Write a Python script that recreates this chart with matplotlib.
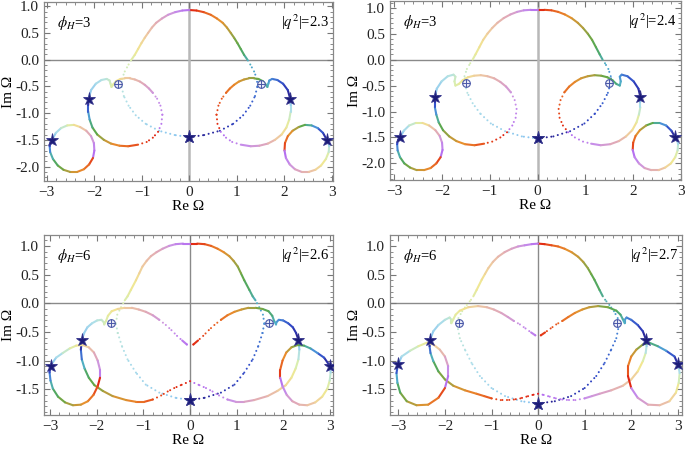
import matplotlib
matplotlib.use("Agg")
import matplotlib.pyplot as plt
import numpy as np
from matplotlib.collections import LineCollection
from matplotlib.colors import LinearSegmentedColormap
from matplotlib.ticker import MultipleLocator, FormatStrFormatter

plt.rcParams["font.family"] = ["Liberation Serif", "DejaVu Serif"]
plt.rcParams["mathtext.fontset"] = "stix"

# colour of the phase parameter t along each trajectory (0 -> 1)
phase_t = [0.0, 0.05, 0.10, 0.13, 0.18, 0.23, 0.29, 0.37, 0.44, 0.4999,
           0.5001, 0.56, 0.63, 0.72, 0.80, 0.87, 0.93, 1.0]
phase_hex = ["#2a2090", "#3048c8", "#4a8fd8", "#50b0c8", "#4ea86a", "#62a846",
             "#a8a040", "#e8902e", "#e85a20", "#e02010",
             "#b46ef0", "#c890e8", "#e0a8b8", "#eec8a0", "#f2e690", "#d8eeb0",
             "#b0e0e8", "#88c4f0"]

# ---- panel 1: phi_H = 3, |q^2| = 2.3  (Re > 0 half, mirrored for Re < 0)
p1_arch_x = [0.00, 0.31, 0.64, 0.92, 1.13, 1.28, 1.38, 1.43, 1.42, 1.36, 1.28, 1.22,
             1.15, 1.08, 1.01, 0.94, 0.87, 0.79, 0.70, 0.58, 0.45, 0.30, 0.15, 0.00]
p1_arch_y = [-1.45, -1.41, -1.33, -1.20, -1.04, -0.86, -0.68, -0.50, -0.36, -0.22, -0.09, 0.00,
             0.09, 0.20, 0.31, 0.41, 0.50, 0.60, 0.69, 0.77, 0.84, 0.89, 0.92, 0.93]
p1_arch_t = [0.000, 0.012, 0.025, 0.038, 0.050, 0.062, 0.075, 0.087, 0.100, 0.115, 0.130, 0.140,
             0.165, 0.20, 0.23, 0.26, 0.29, 0.32, 0.35, 0.38, 0.41, 0.44, 0.47, 0.50]
p1_loop_x = [2.12, 2.07, 1.97, 1.85, 1.74, 1.68, 1.66, 1.64, 1.60, 1.54, 1.45, 1.36, 1.25,
             1.15, 1.04, 0.94, 0.85, 0.77, 0.68, 0.61, 0.57, 0.59, 0.66, 0.77, 0.90, 1.08,
             1.29, 1.47, 1.65, 1.80, 1.94, 2.04, 2.10, 2.13, 2.13, 2.12]
p1_loop_y = [-0.73, -0.57, -0.45, -0.38, -0.36, -0.39, -0.45, -0.51, -0.46, -0.40, -0.36, -0.35,
             -0.35, -0.37, -0.41, -0.47, -0.54, -0.62, -0.73, -0.86, -1.03, -1.20, -1.35, -1.46,
             -1.54, -1.59, -1.62, -1.61, -1.57, -1.50, -1.40, -1.27, -1.12, -0.97, -0.85, -0.73]
p1_loop_t = [0.000, 0.025, 0.050, 0.070, 0.090, 0.105, 0.120, 0.140, 0.160, 0.190, 0.230, 0.260,
             0.290, 0.320, 0.350, 0.380, 0.400, 0.420, 0.435, 0.450, 0.465, 0.480, 0.495, 0.510,
             0.520, 0.535, 0.570, 0.600, 0.640, 0.690, 0.750, 0.800, 0.860, 0.910, 0.950, 1.000]
p1_small_x = [2.89, 2.81, 2.70, 2.57, 2.43, 2.30, 2.17, 2.07, 2.01, 2.00, 2.03, 2.11, 2.22,
              2.36, 2.51, 2.65, 2.77, 2.87, 2.93, 2.94, 2.92, 2.89]
p1_small_y = [-1.50, -1.37, -1.28, -1.23, -1.22, -1.26, -1.33, -1.43, -1.56, -1.70, -1.84, -1.96,
              -2.05, -2.10, -2.10, -2.06, -1.98, -1.86, -1.73, -1.62, -1.55, -1.50]
p1_small_t = [0.00, 0.04, 0.08, 0.13, 0.19, 0.26, 0.33, 0.39, 0.44, 0.48, 0.52, 0.56, 0.60,
              0.64, 0.68, 0.73, 0.78, 0.83, 0.88, 0.93, 0.97, 1.00]
p1_star_x = [0.00, 2.12, 2.89]
p1_star_y = [-1.45, -0.73, -1.50]
p1_oplus = (1.50, -0.46)

# ---- panel 2: phi_H = 3, |q^2| = 2.4
p2_arch_x = [0.00, 0.33, 0.68, 0.98, 1.20, 1.36, 1.47, 1.53, 1.53, 1.48, 1.41, 1.36,
             1.30, 1.22, 1.14, 1.05, 0.95, 0.84, 0.71, 0.57, 0.43, 0.29, 0.14, 0.00]
p2_arch_y = [-1.52, -1.48, -1.38, -1.23, -1.04, -0.84, -0.64, -0.45, -0.32, -0.18, -0.07, 0.00,
             0.10, 0.24, 0.38, 0.50, 0.61, 0.71, 0.80, 0.87, 0.92, 0.95, 0.96, 0.96]
p2_arch_t = p1_arch_t
p2_loop_x = [2.15, 2.11, 2.01, 1.88, 1.76, 1.72, 1.74, 1.72, 1.65, 1.57, 1.46, 1.33, 1.19,
             1.05, 0.91, 0.78, 0.66, 0.56, 0.48, 0.44, 0.46, 0.53, 0.64, 0.78, 0.95, 1.12,
             1.32, 1.52, 1.70, 1.85, 1.98, 2.07, 2.12, 2.15, 2.15, 2.15]
p2_loop_y = [-0.72, -0.56, -0.42, -0.32, -0.29, -0.33, -0.42, -0.50, -0.47, -0.40, -0.34, -0.31,
             -0.30, -0.32, -0.36, -0.43, -0.52, -0.63, -0.78, -0.95, -1.12, -1.27, -1.40, -1.50,
             -1.58, -1.62, -1.65, -1.63, -1.57, -1.48, -1.36, -1.21, -1.06, -0.92, -0.82, -0.72]
p2_loop_t = [0.000, 0.025, 0.050, 0.070, 0.090, 0.105, 0.120, 0.140, 0.160, 0.190, 0.220, 0.250,
             0.280, 0.310, 0.340, 0.370, 0.400, 0.420, 0.435, 0.450, 0.465, 0.480, 0.495, 0.510,
             0.525, 0.540, 0.570, 0.610, 0.650, 0.700, 0.760, 0.810, 0.870, 0.920, 0.960, 1.000]
p2_small_x = [2.88, 2.80, 2.69, 2.55, 2.41, 2.27, 2.14, 2.05, 2.00, 1.99, 2.03, 2.12, 2.24,
              2.38, 2.53, 2.67, 2.79, 2.88, 2.93, 2.94, 2.92, 2.88]
p2_small_y = [-1.50, -1.37, -1.27, -1.22, -1.22, -1.27, -1.36, -1.47, -1.60, -1.74, -1.88, -2.00,
              -2.09, -2.13, -2.13, -2.08, -2.00, -1.88, -1.75, -1.63, -1.55, -1.50]
p2_small_t = p1_small_t
p2_star_x = [0.00, 2.15, 2.88]
p2_star_y = [-1.52, -0.72, -1.50]
p2_oplus = (1.50, -0.46)

# ---- panel 3: phi_H = 6, |q^2| = 2.6
p3_arch_x = [0.00, 0.31, 0.66, 0.95, 1.16, 1.34, 1.46, 1.55, 1.59, 1.56, 1.48, 1.40, 1.34,
             1.27, 1.16, 1.09, 1.02, 0.93, 0.84, 0.72, 0.59, 0.45, 0.31, 0.15, 0.00]
p3_arch_y = [-1.69, -1.65, -1.56, -1.42, -1.21, -0.98, -0.75, -0.52, -0.35, -0.20, -0.07, 0.05,
             0.12, 0.23, 0.40, 0.52, 0.64, 0.74, 0.82, 0.89, 0.95, 1.00, 1.03, 1.04, 1.04]
p3_arch_t = [0.000, 0.012, 0.025, 0.038, 0.050, 0.062, 0.075, 0.087, 0.100, 0.112, 0.125, 0.138,
             0.150, 0.175, 0.21, 0.24, 0.27, 0.30, 0.33, 0.36, 0.39, 0.42, 0.45, 0.475, 0.50]
p3_upper_x = [2.32, 2.27, 2.20, 2.10, 1.99, 1.90, 1.85, 1.84, 1.80, 1.76, 1.68, 1.55, 1.40,
              1.25, 1.10, 0.95, 0.80, 0.66, 0.52, 0.40, 0.28, 0.17, 0.07, 0.00]
p3_upper_y = [-0.64, -0.52, -0.42, -0.35, -0.30, -0.29, -0.33, -0.37, -0.31, -0.22, -0.14, -0.10,
              -0.08, -0.08, -0.11, -0.15, -0.21, -0.29, -0.38, -0.47, -0.57, -0.65, -0.72, -0.75]
p3_upper_t = [0.000, 0.020, 0.040, 0.060, 0.080, 0.095, 0.110, 0.120, 0.140, 0.160, 0.190, 0.230,
              0.270, 0.300, 0.330, 0.360, 0.390, 0.415, 0.430, 0.445, 0.460, 0.475, 0.490, 0.497]
p3_lower_x = [0.00, 0.20, 0.34, 0.48, 0.62, 0.80, 0.98, 1.16, 1.37, 1.66, 1.87, 2.05, 2.17,
              2.26, 2.32, 2.34, 2.32]
p3_lower_y = [-1.36, -1.43, -1.48, -1.54, -1.61, -1.68, -1.72, -1.72, -1.69, -1.62, -1.53, -1.43,
              -1.30, -1.14, -0.98, -0.81, -0.64]
p3_lower_t = [0.500, 0.510, 0.518, 0.526, 0.535, 0.550, 0.575, 0.600, 0.630, 0.670, 0.710, 0.750,
              0.790, 0.840, 0.890, 0.950, 1.000]
p3_small_x = [2.99, 2.87, 2.73, 2.58, 2.44, 2.30, 2.17, 2.06, 1.98, 1.93, 1.93, 1.98, 2.07,
              2.19, 2.34, 2.51, 2.68, 2.83, 2.94, 2.99, 3.01, 3.00, 2.99]
p3_small_y = [-1.09, -0.95, -0.87, -0.79, -0.74, -0.73, -0.77, -0.86, -1.00, -1.16, -1.30, -1.45,
              -1.60, -1.71, -1.77, -1.78, -1.73, -1.63, -1.49, -1.35, -1.21, -1.14, -1.09]
p3_small_t = [0.00, 0.04, 0.08, 0.13, 0.18, 0.23, 0.29, 0.35, 0.40, 0.45, 0.49, 0.53, 0.57,
              0.61, 0.65, 0.69, 0.73, 0.78, 0.83, 0.88, 0.93, 0.97, 1.00]
p3_star_x = [0.00, 2.32, 2.99]
p3_star_y = [-1.69, -0.64, -1.09]
p3_oplus = (1.70, -0.35)

# ---- panel 4: phi_H = 6, |q^2| = 2.7
p4_arch_x = [0.00, 0.36, 0.71, 1.00, 1.25, 1.43, 1.57, 1.68, 1.73, 1.71, 1.63, 1.53, 1.44,
             1.39, 1.32, 1.21, 1.14, 1.07, 0.97, 0.86, 0.72, 0.57, 0.43, 0.29, 0.14, 0.00]
p4_arch_y = [-1.75, -1.71, -1.62, -1.48, -1.27, -1.04, -0.81, -0.61, -0.41, -0.26, -0.14, -0.03,
             0.06, 0.12, 0.23, 0.41, 0.51, 0.61, 0.72, 0.81, 0.89, 0.95, 0.99, 1.01, 1.03, 1.04]
p4_arch_t = [0.000, 0.012, 0.025, 0.038, 0.050, 0.062, 0.075, 0.087, 0.100, 0.112, 0.122, 0.133,
             0.144, 0.152, 0.175, 0.21, 0.235, 0.26, 0.29, 0.32, 0.35, 0.38, 0.41, 0.44, 0.47, 0.50]
p4_upper_x = [2.32, 2.25, 2.14, 2.00, 1.90, 1.86, 1.86, 1.82, 1.77, 1.68, 1.50, 1.29, 1.10,
              0.95, 0.79, 0.65, 0.52, 0.39, 0.27, 0.15, 0.06, 0.00]
p4_upper_y = [-0.64, -0.49, -0.38, -0.29, -0.25, -0.29, -0.35, -0.28, -0.20, -0.13, -0.07, -0.05,
              -0.07, -0.11, -0.17, -0.24, -0.31, -0.37, -0.44, -0.51, -0.56, -0.58]
p4_upper_t = [0.000, 0.025, 0.050, 0.075, 0.095, 0.110, 0.125, 0.145, 0.165, 0.190, 0.235, 0.280,
              0.315, 0.345, 0.375, 0.400, 0.420, 0.435, 0.450, 0.465, 0.480, 0.486]
p4_lower_x = [0.00, 0.12, 0.25, 0.38, 0.52, 0.66, 0.80, 1.00, 1.16, 1.32, 1.57, 1.82, 2.00,
              2.14, 2.25, 2.31, 2.33, 2.32]
p4_lower_y = [-1.58, -1.60, -1.63, -1.66, -1.68, -1.69, -1.69, -1.66, -1.62, -1.58, -1.52, -1.44,
              -1.33, -1.19, -1.01, -0.87, -0.75, -0.64]
p4_lower_t = [0.500, 0.505, 0.510, 0.515, 0.520, 0.527, 0.535, 0.550, 0.575, 0.595, 0.630, 0.680,
              0.720, 0.770, 0.830, 0.890, 0.950, 1.000]
p4_small_x = [3.00, 2.93, 2.75, 2.57, 2.39, 2.25, 2.11, 2.00, 1.93, 1.93, 2.00, 2.14, 2.36,
              2.61, 2.82, 2.96, 3.02, 3.04, 3.02, 3.00]
p4_small_y = [-1.06, -0.93, -0.83, -0.75, -0.69, -0.72, -0.81, -0.93, -1.10, -1.27, -1.48, -1.65,
              -1.77, -1.78, -1.71, -1.56, -1.39, -1.22, -1.12, -1.06]
p4_small_t = [0.00, 0.04, 0.09, 0.14, 0.19, 0.24, 0.30, 0.36, 0.42, 0.47, 0.52, 0.57, 0.62,
              0.67, 0.72, 0.78, 0.84, 0.91, 0.96, 1.00]
p4_star_x = [0.00, 2.32, 3.00]
p4_star_y = [-1.75, -0.64, -1.06]
p4_oplus = (1.70, -0.35)

panel_phi = ["3", "3", "6", "6"]
panel_q2 = ["2.3", "2.4", "2.6", "2.7"]
panel_xlim = [(-3.06, 3.02), (-3.09, 3.00), (-3.13, 3.06), (-3.18, 3.09)]
panel_ylim = [(-2.27, 1.08), (-2.32, 1.13), (-1.95, 1.19), (-1.95, 1.19)]

cmap = LinearSegmentedColormap.from_list("phase", list(zip(phase_t, phase_hex)))
FAST = 8.5  # |dOmega/dt| above which the sampled points separate into dots


def draw_track(ax, x, y, t, mirror=False):
    x = np.asarray(x, float)
    y = np.asarray(y, float)
    t = np.asarray(t, float)
    if mirror:
        x = -x
        t = 1.0 - t
    pts = np.column_stack([x, y])
    segs = np.stack([pts[:-1], pts[1:]], axis=1)
    speed = np.hypot(np.diff(x), np.diff(y)) / np.abs(np.diff(t))
    cols = cmap(0.5 * (t[:-1] + t[1:]))
    slow = speed < FAST
    ax.add_collection(LineCollection(segs[slow], colors=cols[slow], linewidths=1.5,
                                     capstyle="round", zorder=3))
    ax.add_collection(LineCollection(segs[~slow], colors=cols[~slow], linewidths=1.5,
                                     linestyles=[(0, (0.01, 2.2))], capstyle="round", zorder=3))


fig = plt.figure(figsize=(6.85, 4.5), dpi=100)
rects = [[0.0642, 0.5978, 0.4219, 0.3978], [0.5693, 0.6000, 0.4248, 0.3978],
         [0.0642, 0.0778, 0.4219, 0.4000], [0.5693, 0.0778, 0.4263, 0.4000]]

tracks = [
    [(p1_arch_x, p1_arch_y, p1_arch_t), (p1_loop_x, p1_loop_y, p1_loop_t), (p1_small_x, p1_small_y, p1_small_t)],
    [(p2_arch_x, p2_arch_y, p2_arch_t), (p2_loop_x, p2_loop_y, p2_loop_t), (p2_small_x, p2_small_y, p2_small_t)],
    [(p3_arch_x, p3_arch_y, p3_arch_t), (p3_upper_x, p3_upper_y, p3_upper_t),
     (p3_lower_x, p3_lower_y, p3_lower_t), (p3_small_x, p3_small_y, p3_small_t)],
    [(p4_arch_x, p4_arch_y, p4_arch_t), (p4_upper_x, p4_upper_y, p4_upper_t),
     (p4_lower_x, p4_lower_y, p4_lower_t), (p4_small_x, p4_small_y, p4_small_t)],
]
stars = [(p1_star_x, p1_star_y), (p2_star_x, p2_star_y), (p3_star_x, p3_star_y), (p4_star_x, p4_star_y)]
opluses = [p1_oplus, p2_oplus, p3_oplus, p4_oplus]

for i in range(4):
    ax = fig.add_axes(rects[i])
    ax.set_xlim(panel_xlim[i])
    ax.set_ylim(panel_ylim[i])
    top = i < 2
    ax.axhline(0, color="#8a8a8a", lw=1.0, zorder=1)
    ax.axvline(0, color="#b8b8b8" if top else "#8a8a8a", lw=1.8 if top else 1.0, zorder=1)

    for x, y, t in tracks[i]:
        draw_track(ax, x, y, t)
        draw_track(ax, x, y, t, mirror=True)

    sx, sy = stars[i]
    ax.plot(sx, sy, ls="none", marker="*", ms=9.5, color="#1c1c78", mec="#34348c", mew=0.6, zorder=5)
    ax.plot([-v for v in sx], sy, ls="none", marker="*", ms=9.5, color="#1c1c78", mec="#34348c", mew=0.6, zorder=5)
    ox, oy = opluses[i]
    ax.plot([ox, -ox], [oy, oy], ls="none", marker="o", ms=5.5, mfc="#e8eaf6", mec="#4a58a8",
            mew=0.8, zorder=5)
    ax.plot([ox, -ox], [oy, oy], ls="none", marker="+", ms=5.5, mec="#4a58a8", mew=0.7, zorder=6)

    ax.text(0.045, 0.885, r"$\phi_H$=" + panel_phi[i], transform=ax.transAxes,
            fontsize=10.5, va="center", ha="left")
    ax.text(0.985, 0.885, r"|$q^2$|=" + panel_q2[i], transform=ax.transAxes,
            fontsize=10.5, va="center", ha="right")

    ax.xaxis.set_major_locator(MultipleLocator(1))
    ax.xaxis.set_minor_locator(MultipleLocator(0.2))
    ax.yaxis.set_major_locator(MultipleLocator(0.5))
    ax.yaxis.set_minor_locator(MultipleLocator(0.1))
    ax.yaxis.set_major_formatter(FormatStrFormatter("%.1f"))
    ax.tick_params(which="both", direction="in", top=True, right=True, colors="#777777",
                   labelcolor="#222222", labelsize=11)
    ax.tick_params(which="major", length=4, width=0.8)
    ax.tick_params(which="minor", length=2, width=0.6)
    for s in ax.spines.values():
        s.set_color("#888888")
        s.set_linewidth(0.9)
    ax.set_xlabel("Re Ω", fontsize=11, labelpad=1)
    ax.set_ylabel("Im Ω", fontsize=11, labelpad=0)

fig.savefig("out.png", dpi=100)
